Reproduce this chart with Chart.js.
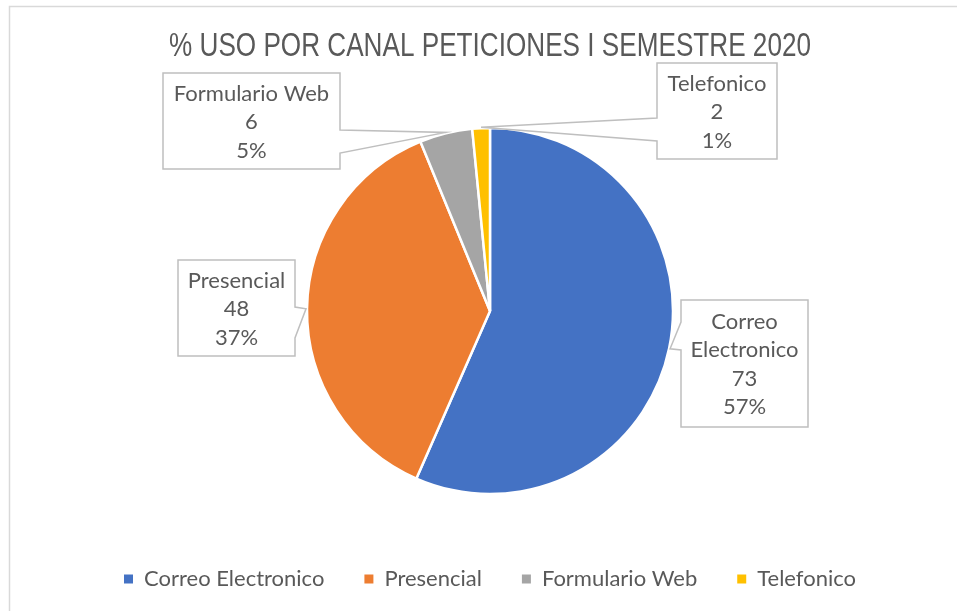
<!DOCTYPE html>
<html>
<head>
<meta charset="utf-8">
<script src="https://cdn.jsdelivr.net/npm/chart.js@4.4.1/dist/chart.umd.min.js"></script>
<style>
  html, body { margin: 0; padding: 0; background: #fff; }
  #wrap { width: 957px; height: 611px; position: relative; }
</style>
</head>
<body>
<div id="wrap"><canvas id="pie-chart" width="957" height="611"></canvas></div>
<script>
const chartTitle = '% USO POR CANAL PETICIONES I SEMESTRE 2020';
const categories = ['Correo Electronico', 'Presencial', 'Formulario Web', 'Telefonico'];
const values = [73, 48, 6, 2];
const percentLabels = ['57%', '37%', '5%', '1%'];

const sliceColors = ['#4472C4', '#ED7D31', '#A5A5A5', '#FFC000'];
const textColor = '#595959';
const labelFont = 'Lato, "Open Sans", sans-serif';

// callout boxes: where each box sits and which side its pointer leaves from
const callouts = [
  { x: 681, y: 300, w: 127, h: 127, side: 'left',  b1: 22, b2: 50 },
  { x: 178, y: 260, w: 117, h: 96,  side: 'right', b1: 47, b2: 78 },
  { x: 163, y: 73,  w: 177, h: 96,  side: 'right', b1: 57, b2: 80 },
  { x: 657, y: 63,  w: 120, h: 96,  side: 'left',  b1: 55, b2: 78 }
];

function wrapText(ctx, text, maxW) {
  const words = text.split(' ');
  const lines = [];
  let cur = '';
  words.forEach(w => {
    const t = cur ? cur + ' ' + w : w;
    if (cur && ctx.measureText(t).width > maxW) {
      lines.push(cur);
      cur = w;
    } else {
      cur = t;
    }
  });
  if (cur) lines.push(cur);
  return lines;
}

// narrow title: no condensed font installed, so squeeze a regular one
const narrowTitle = {
  id: 'narrowTitle',
  afterDraw(chart) {
    const ctx = chart.ctx;
    ctx.save();
    ctx.font = '34px "Liberation Sans", Arial, sans-serif';
    ctx.fillStyle = textColor;
    ctx.textAlign = 'center';
    ctx.textBaseline = 'middle';
    const w = ctx.measureText(chartTitle).width;
    const sx = Math.min(1, 642 / w);
    const cx = (chart.chartArea.left + chart.chartArea.right) / 2;
    ctx.translate(cx, 47);
    ctx.scale(sx, 1);
    ctx.fillText(chartTitle, 0, 0);
    ctx.restore();
  }
};

const frameAndCallouts = {
  id: 'frameAndCallouts',
  afterDraw(chart) {
    const ctx = chart.ctx;
    // outer frame (chart is cropped on the right and bottom)
    ctx.save();
    ctx.strokeStyle = '#d9d9d9';
    ctx.lineWidth = 1.5;
    ctx.beginPath();
    ctx.moveTo(9.5, 611);
    ctx.lineTo(9.5, 6.5);
    ctx.lineTo(957, 6.5);
    ctx.stroke();
    ctx.restore();

    const meta = chart.getDatasetMeta(0);
    meta.data.forEach((arc, i) => {
      const c = callouts[i];
      if (!c) return;
      const p = arc.getProps(['x', 'y', 'startAngle', 'endAngle', 'outerRadius'], true);
      const mid = (p.startAngle + p.endAngle) / 2;
      const tx = p.x + Math.cos(mid) * (p.outerRadius + 1);
      const ty = p.y + Math.sin(mid) * (p.outerRadius + 1);
      const x0 = c.x, y0 = c.y, x1 = c.x + c.w, y1 = c.y + c.h;

      ctx.save();
      ctx.beginPath();
      if (c.side === 'right') {
        ctx.moveTo(x0, y0);
        ctx.lineTo(x1, y0);
        ctx.lineTo(x1, y0 + c.b1);
        ctx.lineTo(tx, ty);
        ctx.lineTo(x1, y0 + c.b2);
        ctx.lineTo(x1, y1);
        ctx.lineTo(x0, y1);
      } else {
        ctx.moveTo(x0, y0);
        ctx.lineTo(x1, y0);
        ctx.lineTo(x1, y1);
        ctx.lineTo(x0, y1);
        ctx.lineTo(x0, y0 + c.b2);
        ctx.lineTo(tx, ty);
        ctx.lineTo(x0, y0 + c.b1);
      }
      ctx.closePath();
      ctx.fillStyle = '#ffffff';
      ctx.fill();
      ctx.strokeStyle = '#bfbfbf';
      ctx.lineWidth = 1.5;
      ctx.lineJoin = 'miter';
      ctx.stroke();

      ctx.font = '22px ' + labelFont;
      ctx.fillStyle = textColor;
      ctx.textAlign = 'center';
      ctx.textBaseline = 'middle';
      const lines = wrapText(ctx, categories[i], c.w - 14)
        .concat([String(values[i]), percentLabels[i]]);
      const lh = 28.5;
      const cy = (y0 + y1) / 2 + 1;
      lines.forEach((ln, k) => {
        ctx.fillText(ln, (x0 + x1) / 2, cy + (k - (lines.length - 1) / 2) * lh);
      });
      ctx.restore();
    });
  }
};

new Chart(document.getElementById('pie-chart'), {
  type: 'pie',
  data: {
    labels: categories,
    datasets: [{
      data: values,
      backgroundColor: sliceColors,
      borderColor: '#ffffff',
      borderWidth: 2.5
    }]
  },
  options: {
    responsive: false,
    animation: false,
    radius: 183,
    layout: { padding: { left: 23, right: 0, top: 94, bottom: 11 } },
    plugins: {
      tooltip: { enabled: false },
      title: { display: false },
      legend: {
        position: 'bottom',
        labels: {
          color: textColor,
          font: { family: labelFont, size: 22 },
          boxWidth: 9,
          boxHeight: 9,
          padding: 40,
          generateLabels(chart) {
            const base = Chart.overrides.pie.plugins.legend.labels.generateLabels(chart);
            return base.map(l => Object.assign(l, { lineWidth: 0, strokeStyle: 'rgba(0,0,0,0)' }));
          }
        }
      }
    }
  },
  plugins: [narrowTitle, frameAndCallouts]
});
</script>
</body>
</html>
